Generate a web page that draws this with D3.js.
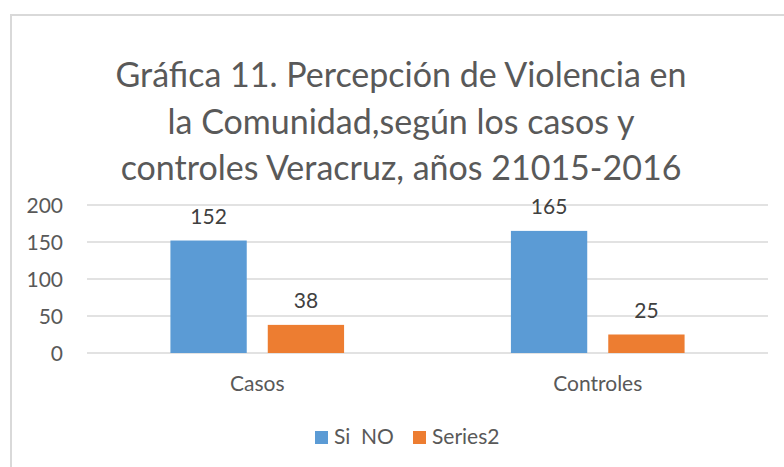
<!DOCTYPE html>
<html>
<head>
<meta charset="utf-8">
<script src="https://cdn.jsdelivr.net/npm/d3@7"></script>
<style>
  html, body { margin: 0; padding: 0; background: #fff; }
  svg text { font-family: Lato, "Open Sans", sans-serif; }
</style>
</head>
<body>
<div id="chart"></div>
<script>
// chart data
const categories = ['Casos', 'Controles'];
const seriesNames = ['Si  NO', 'Series2'];
const siNo = [152, 165];
const series2 = [38, 25];
const yTicks = [0, 50, 100, 150, 200];
const titleLines = [
    'Gráfica 11. Percepción de Violencia en',
    'la Comunidad,según los casos y',
    'controles Veracruz, años 21015-2016'
];

const colors = ['#5B9BD5', '#ED7D31'];
const W = 784, H = 467;
const labelSize = '21px';

const svg = d3.select('#chart')
    .append('svg')
    .attr('width', W)
    .attr('height', H);

// outer chart frame (runs off right/bottom edges)
svg.append('rect')
    .attr('x', 11)
    .attr('y', 15)
    .attr('width', W + 20)
    .attr('height', H + 20)
    .attr('fill', '#fff')
    .attr('stroke', '#D9D9D9')
    .attr('stroke-width', 2);

// title
svg.append('text')
    .attr('text-anchor', 'middle')
    .style('font-size', '34px')
    .style('fill', '#595959')
    .selectAll('tspan')
    .data(titleLines)
    .join('tspan')
    .attr('x', 401)
    .attr('y', (d, i) => 87 + i * 46.5)
    .text(d => d);

// scales
const plot = { left: 87, right: 768, top: 205, bottom: 353 };

const y = d3.scaleLinear()
    .domain([0, 200])
    .range([plot.bottom, plot.top]);

const x0 = d3.scaleBand()
    .domain(categories)
    .range([plot.left, plot.right])
    .paddingInner(0.49)
    .paddingOuter(0.245);

const x1 = d3.scaleBand()
    .domain(seriesNames)
    .range([0, x0.bandwidth()])
    .paddingInner(0.216);

// gridlines
svg.append('g')
    .selectAll('line')
    .data(yTicks)
    .join('line')
    .attr('x1', plot.left)
    .attr('x2', plot.right)
    .attr('y1', d => y(d))
    .attr('y2', d => y(d))
    .attr('stroke', '#D9D9D9')
    .attr('stroke-width', 1.5);

// y axis labels (no line, no ticks)
const yAxis = svg.append('g')
    .attr('transform', `translate(${plot.left - 24},0)`)
    .call(d3.axisLeft(y).tickValues(yTicks).tickSize(0).tickPadding(0));
yAxis.select('.domain').remove();
yAxis.selectAll('text')
    .attr('dy', '0.35em')
    .style('font-family', 'Lato, sans-serif')
    .style('font-size', labelSize)
    .style('fill', '#595959');

// x axis labels
const xAxis = svg.append('g')
    .attr('transform', `translate(0,${plot.bottom})`)
    .call(d3.axisBottom(x0).tickSize(0).tickPadding(0));
xAxis.select('.domain').remove();
xAxis.selectAll('text')
    .attr('y', 38)
    .attr('dy', 0)
    .style('font-family', 'Lato, sans-serif')
    .style('font-size', labelSize)
    .style('fill', '#595959');

// bars
const rows = categories.map((c, i) => ({
    category: c,
    values: [
        { name: seriesNames[0], value: siNo[i], color: colors[0] },
        { name: seriesNames[1], value: series2[i], color: colors[1] }
    ]
}));

const group = svg.append('g')
    .selectAll('g')
    .data(rows)
    .join('g')
    .attr('transform', d => `translate(${x0(d.category)},0)`);

group.selectAll('rect')
    .data(d => d.values)
    .join('rect')
    .attr('x', d => x1(d.name))
    .attr('y', d => y(d.value))
    .attr('width', x1.bandwidth())
    .attr('height', d => y(0) - y(d.value))
    .attr('fill', d => d.color);

group.selectAll('text.val')
    .data(d => d.values)
    .join('text')
    .attr('class', 'val')
    .attr('x', d => x1(d.name) + x1.bandwidth() / 2)
    .attr('y', d => y(d.value) - 17)
    .attr('text-anchor', 'middle')
    .style('font-size', labelSize)
    .style('fill', '#404040')
    .text(d => d.value);

// legend
const legend = svg.append('g')
    .attr('transform', 'translate(315,431)');

const legendX = [0, 98];
const item = legend.selectAll('g')
    .data(seriesNames)
    .join('g')
    .attr('transform', (d, i) => `translate(${legendX[i]},0)`);

item.append('rect')
    .attr('width', 13)
    .attr('height', 13)
    .attr('fill', (d, i) => colors[i]);

item.append('text')
    .attr('x', 19)
    .attr('y', 13)
    .attr('xml:space', 'preserve')
    .style('white-space', 'pre')
    .style('font-size', labelSize)
    .style('fill', '#595959')
    .text(d => d);
</script>
</body>
</html>
